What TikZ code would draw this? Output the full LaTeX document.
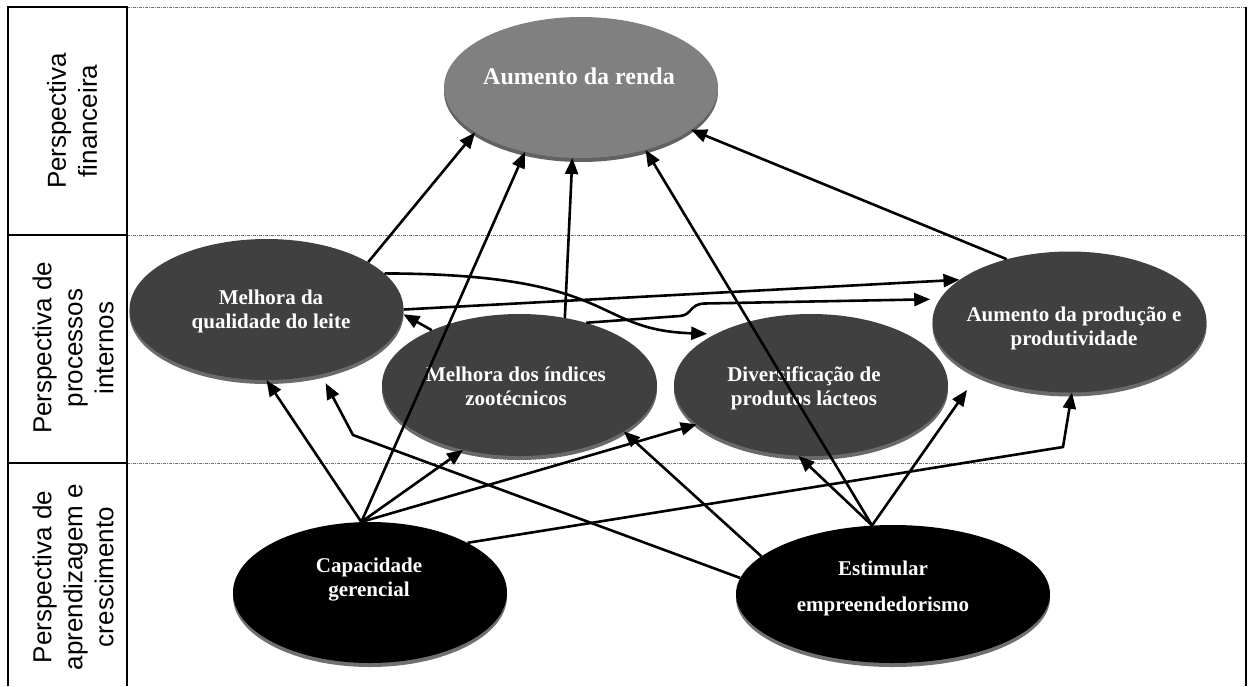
\documentclass[tikz,border=0pt]{standalone}
\usepackage{fontspec}
\setmainfont{Liberation Serif}
\newfontfamily\arialf{Liberation Sans}
\usetikzlibrary{shapes.geometric,arrows.meta,shadows}
\definecolor{rendafill}{HTML}{808080}
\definecolor{rendashade}{HTML}{626262}
\definecolor{darkfill}{HTML}{404040}
\definecolor{darkshade}{HTML}{6A6A6A}
\definecolor{blackshade}{HTML}{707070}
\definecolor{gridgray}{HTML}{707070}
\begin{document}
\begin{tikzpicture}[x=1pt,y=-1pt,
  frameline/.style={line width=1.4pt,black},
  gridline/.style={line width=0.9pt,gridgray,dash pattern=on 3pt off 1pt on 1pt off 1pt},
  perslabel/.style={rotate=90,align=center,inner sep=0pt,font=\arialf\fontsize{26}{31}\selectfont},
  goal/.style={ellipse,inner sep=0pt,minimum width=274pt,minimum height=141pt,
     drop shadow={shadow xshift=0pt,shadow yshift=-4pt,opacity=1,fill=#1}},
  etext/.style={text=white,align=center,inner sep=0pt,font=\bfseries\fontsize{21}{24}\selectfont},
  conn/.style={line width=2.6pt,black,-{Triangle[length=16pt,width=13pt]}}]
\useasboundingbox (0,0) rectangle (1248,686);
\fill[white] (0,0) rectangle (1248,686);
% frame
\draw[gridline] (127,7) -- (1246,7);
\draw[gridline] (127,235) -- (1246,235);
\draw[gridline] (127,463) -- (1246,463);
\draw[frameline] (8,686) -- (8,7) -- (127,7) -- (127,686);
\draw[frameline] (8,235) -- (127,235);
\draw[frameline] (8,463) -- (127,463);
\draw[frameline] (1246,7) -- (1246,686);
% perspective labels
\node[perslabel] (lab1) at (72,121) {Perspectiva\\financeira};
\node[perslabel] (lab2) at (73,348) {Perspectiva de\\processos\\internos};
\node[perslabel] (lab3) at (73,577) {Perspectiva de\\aprendizagem e\\crescimento};
% goals
\node[goal=rendashade,fill=rendafill] (renda) at (581,87.5) {};
\node[goal=darkshade,fill=darkfill] (qual) at (266.5,309.5) {};
\node[goal=darkshade,fill=darkfill] (prod) at (1069.5,322) {};
\node[goal=darkshade,fill=darkfill,minimum width=275pt,minimum height=142pt] (ind) at (519.5,385) {};
\node[goal=darkshade,fill=darkfill,minimum height=142pt] (div) at (811,385) {};
\node[goal=blackshade,fill=black] (cap) at (370,592.5) {};
\node[goal=blackshade,fill=black,minimum width=314pt,minimum height=138pt] (est) at (893,594) {};
% goal texts
\node[etext,font=\bfseries\fontsize{24}{28}\selectfont] (rendaT) at (579,76) {Aumento da renda};
\node[etext] (qualT) at (271,311) {Melhora da\\qualidade do leite};
\node[etext] (indT) at (516,386) {Melhora dos índices\\zootécnicos};
\node[etext] (divT) at (804,388) {Diversificação de\\produtos lácteos};
\node[etext] (prodT) at (1074,328) {Aumento da produção e\\produtividade};
\node[etext] (capT) at (369,580) {Capacidade\\gerencial};
\node[etext,font=\bfseries\fontsize{21}{36}\selectfont] (estT) at (883,588) {Estimular\\empreendedorismo};
% junction points
\coordinate (capTop) at (cap.97);
\coordinate (estTop) at (est.107);
\coordinate (e3tip) at (967,390);
% connectors
\draw[conn] (qual.25) -- (renda.203);
\draw[conn] (capTop) -- (renda.229);
\draw[conn] (ind.56) -- (renda.263);
\draw[conn] (estTop) -- (renda.316);
\draw[conn] (prod.135) -- (renda.339);
\draw[conn] (qual.0) -- (prod.159);
\draw[conn,shorten >=9.5pt] (ind.43) -- (680,316) .. controls (692,315) and (690,304) .. (704,303.5) -- (prod.170);
\draw[conn,shorten >=8pt] (qual.17) .. controls (620,274) and (590,330) .. (div.152);
\draw[conn] (ind.148) -- (qual.358);
\draw[conn] (capTop) -- (qual.270);
\draw[conn] (capTop) -- (ind.229);
\draw[conn] (capTop) -- (div.199);
\draw[conn] (cap.27) -- (1063,447) -- (prod.272);
\draw[conn] (estTop) -- (div.260);
\draw[conn] (estTop) -- (e3tip);
\draw[conn] (est.164) -- (ind.336);
\draw[conn,shorten >=10pt] (est.174) -- (353,435) -- (qual.310);
\end{tikzpicture}
\end{document}
